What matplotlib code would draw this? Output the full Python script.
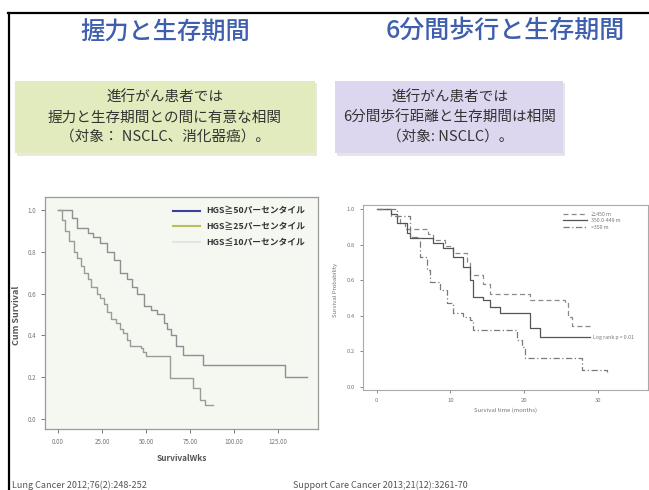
import matplotlib
matplotlib.use("Agg")
import matplotlib.pyplot as plt
from matplotlib.patches import Rectangle
from matplotlib.lines import Line2D

plt.rcParams['font.family'] = ['Noto Sans CJK JP', 'DejaVu Sans']

W, H = 649, 490

# ---------------- data ----------------
title_left = "握力と生存期間"
title_right = "6分間歩行と生存期間"
box_left_lines = ["進行がん患者では", "握力と生存期間との間に有意な相関", "（対象： NSCLC、消化器癌）。"]
box_right_lines = ["進行がん患者では", "6分間歩行距離と生存期間は相関", "（対象: NSCLC）。"]

hgs_labels = ["HGS≧50パーセンタイル", "HGS≧25パーセンタイル", "HGS≦10パーセンタイル"]
hgs_legend_colors = ["#3c3f9a", "#b9bf5a", "#e4e4e4"]

hgs_hi_t = [0, 8, 11, 17, 20, 24, 28, 32, 35, 39, 42, 45, 49, 53, 56, 60, 62, 64, 67, 71, 82.4, 129, 141.5]
hgs_hi_s = [1.0, 0.96, 0.915, 0.89, 0.87, 0.84, 0.80, 0.76, 0.70, 0.67, 0.63, 0.60, 0.54, 0.52, 0.50, 0.46, 0.43, 0.40, 0.35, 0.306, 0.258, 0.20, 0.20]

hgs_lo_t = [0, 2, 4, 6, 9, 11, 13, 15, 17, 19, 22, 24, 26, 28, 30, 33, 35, 37, 39, 41, 47, 48, 50, 63.6, 76.7, 80.7, 83.5, 88]
hgs_lo_s = [1.0, 0.95, 0.90, 0.85, 0.80, 0.77, 0.73, 0.70, 0.67, 0.63, 0.60, 0.58, 0.55, 0.51, 0.48, 0.46, 0.43, 0.41, 0.38, 0.35, 0.34, 0.32, 0.30, 0.196, 0.15, 0.09, 0.065, 0.065]

hgs_xticks = [0, 25, 50, 75, 100, 125]
hgs_xticklabels = ["0.00", "25.00", "50.00", "75.00", "100.00", "125.00"]
hgs_yticks = [0.0, 0.2, 0.4, 0.6, 0.8, 1.0]

walk_labels = ["≥450 m", "350.0-449 m", "<350 m"]

walk_a_t = [0, 2.0, 3.2, 3.8, 7.0, 7.6, 9.3, 10.4, 12.2, 12.7, 14.4, 15.4, 19.5, 20.8, 24.0, 25.6, 26.0, 26.5, 29.0]
walk_a_s = [1.0, 0.96, 0.92, 0.89, 0.86, 0.826, 0.79, 0.75, 0.70, 0.63, 0.58, 0.52, 0.52, 0.49, 0.49, 0.47, 0.395, 0.34, 0.34]

walk_b_t = [0, 2.0, 2.7, 4.1, 4.5, 6.8, 7.6, 9.0, 10.4, 11.7, 12.7, 13.1, 14.4, 15.4, 16.7, 20.4, 20.8, 22.2, 29.0]
walk_b_s = [1.0, 0.97, 0.92, 0.864, 0.835, 0.835, 0.81, 0.78, 0.73, 0.676, 0.60, 0.507, 0.49, 0.45, 0.415, 0.415, 0.33, 0.283, 0.283]

walk_c_t = [0, 2.7, 4.5, 5.9, 6.8, 7.2, 8.6, 9.5, 10.4, 11.7, 12.7, 13.1, 18.5, 19.0, 19.7, 20.1, 27.6, 27.8, 31.2]
walk_c_s = [1.0, 0.96, 0.845, 0.73, 0.657, 0.59, 0.545, 0.47, 0.415, 0.395, 0.376, 0.32, 0.32, 0.264, 0.226, 0.163, 0.163, 0.096, 0.086]

walk_xticks = [0, 10, 20, 30]
walk_yticks = [0.0, 0.2, 0.4, 0.6, 0.8, 1.0]

# ---------------- figure ----------------
fig = plt.figure(figsize=(W / 100, H / 100), dpi=100)
fig.patch.set_facecolor("white")

def fx(x):
    return x / W

def fy(y):
    return 1 - y / H

# slide border
fig.add_artist(Line2D([fx(8), fx(649)], [fy(13), fy(13)], color="black", lw=1.6))
fig.add_artist(Line2D([fx(9), fx(9)], [fy(13), fy(490)], color="black", lw=1.6))

title_color = "#3f5fae"
fig.text(fx(165), fy(33), title_left, ha="center", va="center", fontsize=17.5, color=title_color,
         fontweight="medium")
fig.text(fx(505), fy(31), title_right, ha="center", va="center", fontsize=18, color=title_color,
         fontweight="medium")

# boxes
fig.add_artist(Rectangle((fx(17), fy(156)), fx(300), 73 / H, facecolor="#d9d9c8", edgecolor="none", alpha=0.6))
fig.add_artist(Rectangle((fx(15), fy(153)), fx(300), 72 / H, facecolor="#e2ebbd", edgecolor="none"))
fig.add_artist(Rectangle((fx(337), fy(156)), fx(228), 73 / H, facecolor="#d4d2dc", edgecolor="none", alpha=0.6))
fig.add_artist(Rectangle((fx(335), fy(153)), fx(228), 72 / H, facecolor="#dcd6ef", edgecolor="none"))

for i, line in enumerate(box_left_lines):
    fig.text(fx(165), fy(98 + 19.5 * i), line, ha="center", va="center", fontsize=10.5, color="#333333")
for i, line in enumerate(box_right_lines):
    fig.text(fx(450), fy(98 + 19.5 * i), line, ha="center", va="center", fontsize=10.5, color="#333333")

# ---------------- left KM chart ----------------
axL = fig.add_axes([fx(45), fy(429), 273 / W, 232 / H])
axL.set_facecolor("#f5f7f1")
axL.step(hgs_hi_t, hgs_hi_s, where="post", color="#8c9093", lw=1.0)
axL.step(hgs_lo_t, hgs_lo_s, where="post", color="#9a9c98", lw=1.0)
axL.set_xlim(-7.4, 147.7)
axL.set_ylim(-0.048, 1.062)
axL.set_xticks(hgs_xticks)
axL.set_xticklabels(hgs_xticklabels)
axL.set_yticks(hgs_yticks)
axL.set_yticklabels([f"{v:.1f}" for v in hgs_yticks])
axL.tick_params(labelsize=4.5, colors="#777777", length=3, width=0.7)
for s in axL.spines.values():
    s.set_color("#9a9a9a")
    s.set_linewidth(0.9)
axL.set_xlabel("SurvivalWks", fontsize=6, fontweight="bold", color="#555555", labelpad=6)
axL.set_ylabel("Cum Survival", fontsize=6.5, fontweight="bold", color="#555555", va="center")
axL.yaxis.set_label_coords(-0.103, 0.49)
handlesL = [Line2D([], [], color=c, lw=1.5) for c in hgs_legend_colors]
legL = axL.legend(handlesL, hgs_labels, loc="upper right", bbox_to_anchor=(0.99, 1.0), frameon=False,
                  fontsize=6.3, handlelength=3.0, labelspacing=0.75, borderpad=0.6)
for t in legL.get_texts():
    t.set_color("#333333")
    t.set_fontweight("bold")

# ---------------- right KM chart ----------------
axR = fig.add_axes([fx(363), fy(390), 285 / W, 185 / H])
axR.set_facecolor("white")
axR.step(walk_a_t, walk_a_s, where="post", color="#8a8a8a", lw=0.9, ls=(0, (4, 2.5)), label=walk_labels[0])
axR.step(walk_b_t, walk_b_s, where="post", color="#555555", lw=0.9, label=walk_labels[1])
axR.step(walk_c_t, walk_c_s, where="post", color="#7a7a7a", lw=0.9, ls=(0, (5, 2, 1, 2)), label=walk_labels[2])
axR.set_xlim(-1.86, 36.8)
axR.set_ylim(-0.017, 1.022)
axR.set_xticks(walk_xticks)
axR.set_yticks(walk_yticks)
axR.set_yticklabels([f"{v:.1f}" for v in walk_yticks])
axR.tick_params(labelsize=4.3, colors="#777777", length=2.5, width=0.6)
for s in axR.spines.values():
    s.set_color("#aaaaaa")
    s.set_linewidth(0.8)
axR.set_xlabel("Survival time (months)", fontsize=4.3, color="#777777", labelpad=3)
axR.set_ylabel("Survival Probability", fontsize=4.3, color="#777777", va="center")
axR.yaxis.set_label_coords(-0.095, 0.54)
legR = axR.legend(loc="upper right", bbox_to_anchor=(0.92, 0.99), frameon=False, fontsize=3.8,
                  handlelength=4.5, labelspacing=0.3)
for t in legR.get_texts():
    t.set_color("#777777")
axR.text(29.3, 0.28, "Log rank p = 0.01", fontsize=3.8, color="#777777", va="center")

# citations
fig.text(fx(12), fy(485), "Lung Cancer 2012;76(2):248-252", fontsize=6.5, color="#555555", va="center",
         style="italic")
fig.text(fx(293), fy(485), "Support Care Cancer 2013;21(12):3261-70", fontsize=6.5, color="#555555",
         va="center", style="italic")

fig.savefig("out.png", dpi=100)
